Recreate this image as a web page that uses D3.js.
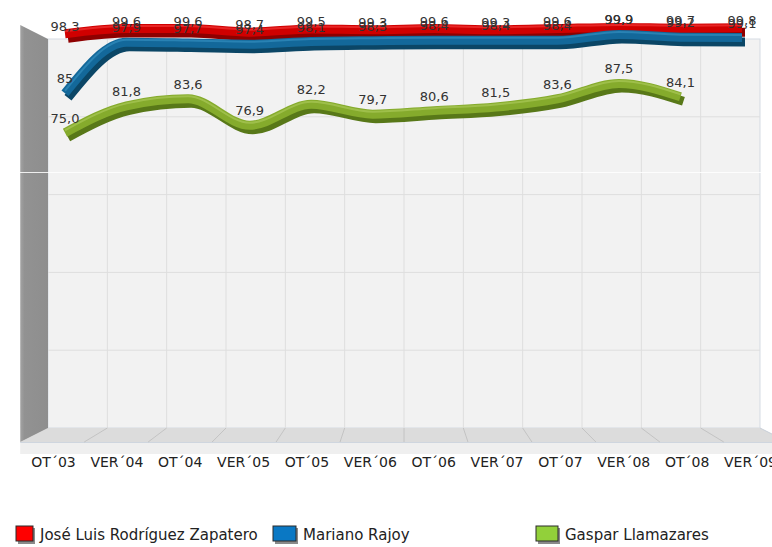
<!DOCTYPE html>
<html><head><meta charset="utf-8">
<script src="https://cdn.jsdelivr.net/npm/d3@7"></script>
<style>
html,body{margin:0;padding:0;background:#fff;}
svg{display:block;font-family:"DejaVu Sans",Verdana,sans-serif;}
</style></head>
<body>
<script>
const categories = ["OT´03","VER´04","OT´04","VER´05","OT´05","VER´06","OT´06","VER´07","OT´07","VER´08","OT´08","VER´09"];
const zapatero = ["98.3","99.6","99.6","98.7","99.5","99.3","99.6","99.3","99.6","99.9","99.7","99.8"];
const rajoy    = ["85","97.9","97.7","97.4","98.1","98.3","98.4","98.4","98.4","99.9","99.2","99.1"];
const llamazares = ["75.0","81.8","83.6","76.9","82.2","79.7","80.6","81.5","83.6","87.5","84.1"];
const seriesNames = ["José Luis Rodríguez Zapatero","Mariano Rajoy","Gaspar Llamazares"];
const yTicks = [0,20,40,60,80,100];

const W = 772, H = 547;
const svg = d3.select("body").append("svg").attr("width",W).attr("height",H);

// frame geometry (back wall) with perspective to the front plane
const back = {x0:48, x1:760, y0:39, y1:428};
const vp = {x:404, y:233.5}, sx = 1.078, sy = 1.072;
const fx = x => vp.x + (x - vp.x)*sx;
const fy = y => vp.y + (y - vp.y)*sy;

const gridX = d3.scaleBand().domain(categories).range([back.x0, back.x1]);
const gridY = d3.scaleLinear().domain([0,100]).range([back.y1, back.y0]);

// back wall
svg.append("rect").attr("x",back.x0).attr("y",back.y0).attr("width",back.x1-back.x0).attr("height",back.y1-back.y0)
  .attr("fill","#f2f2f2").attr("stroke","#d5dbe3").attr("stroke-width",1);
svg.append("g").selectAll("line").data(yTicks.slice(1,-1)).join("line")
  .attr("x1",back.x0).attr("x2",back.x1).attr("y1",d=>gridY(d)).attr("y2",d=>gridY(d))
  .attr("stroke","#dedede").attr("stroke-width",1);
svg.append("g").selectAll("line").data(categories.slice(1)).join("line")
  .attr("x1",d=>gridX(d)).attr("x2",d=>gridX(d)).attr("y1",back.y0).attr("y2",back.y1)
  .attr("stroke","#dedede").attr("stroke-width",1);

// floor
svg.append("polygon")
  .attr("points",[[back.x0,back.y1],[back.x1,back.y1],[fx(back.x1),fy(back.y1)],[fx(back.x0),fy(back.y1)]].join(" "))
  .attr("fill","#dcdcdc");
svg.append("rect").attr("x",fx(back.x0)).attr("y",fy(back.y1)).attr("width",fx(back.x1)-fx(back.x0)).attr("height",12)
  .attr("fill","#efefef");
svg.append("line").attr("x1",fx(back.x0)).attr("x2",fx(back.x1)).attr("y1",fy(back.y1)+0.5).attr("y2",fy(back.y1)+0.5)
  .attr("stroke","#cfd6df");
svg.append("g").selectAll("line").data(categories.slice(1)).join("line")
  .attr("x1",d=>gridX(d)).attr("y1",back.y1).attr("x2",d=>fx(gridX(d))).attr("y2",fy(back.y1))
  .attr("stroke","#bdbdbd").attr("stroke-width",0.8);
svg.append("line").attr("x1",back.x1).attr("y1",back.y1).attr("x2",fx(back.x1)).attr("y2",fy(back.y1))
  .attr("stroke","#c8cfd8");

// left wall
const lw = svg.append("defs").append("linearGradient").attr("id","lw").attr("x1","0").attr("x2","1");
lw.append("stop").attr("offset","0").attr("stop-color","#a3a3a3");
lw.append("stop").attr("offset","0.15").attr("stop-color","#929292");
lw.append("stop").attr("offset","1").attr("stop-color","#8e8e8e");
svg.append("polygon")
  .attr("points",[[fx(back.x0),fy(back.y0)],[back.x0,back.y0],[back.x0,back.y1],[fx(back.x0),fy(back.y1)]].join(" "))
  .attr("fill","url(#lw)");
svg.append("line").attr("x1",10).attr("x2",W).attr("y1",172.5).attr("y2",172.5)
  .attr("stroke","#ffffff").attr("stroke-opacity",0.85);

// series
const x = d3.scalePoint().domain(categories).range([65, 742]);
const y = d3.scaleLinear().domain([0,100]).range([430, 35]);
const series = [
  {name:seriesNames[0], vals:zapatero, dy:-7, dark:"#8e0000", main:"#d00000", light:"#ff4a4a", sw:"#ff0000"},
  {name:seriesNames[1], vals:rajoy, dy:0, dark:"#0b4666", main:"#13689a", light:"#3f9ccc", sw:"#0a78c4"},
  {name:seriesNames[2], vals:llamazares, dy:0, dark:"#587818", main:"#85ab2c", light:"#b8d468", sw:"#92d03a"}
];
const line = d3.line().x((d,i)=>x(categories[i])).y(d=>y(+d)).curve(d3.curveMonotoneX);

const gL = svg.append("g");
series.forEach(s=>{
  const g = gL.append("g").attr("transform",`translate(0,${s.dy})`);
  g.append("path").attr("d",line(s.vals)).attr("transform","translate(3,3.5)")
    .attr("fill","none").attr("stroke",s.dark).attr("stroke-width",9);
  g.append("path").attr("d",line(s.vals)).attr("transform","translate(0,-1)")
    .attr("fill","none").attr("stroke",s.main).attr("stroke-width",9);
  g.append("path").attr("d",line(s.vals)).attr("transform","translate(0,-3.5)")
    .attr("fill","none").attr("stroke",s.light).attr("stroke-width",2).attr("stroke-opacity",0.5);
});

// data labels
series.forEach(s=>{
  svg.append("g").selectAll("text").data(s.vals).join("text")
    .attr("x",(d,i)=>x(categories[i])).attr("y",d=>y(+d)-11)
    .attr("text-anchor","middle").attr("font-size",13).attr("fill","#333")
    .text(d=>d.replace(".",","));
});

// x axis labels
const xl = d3.scalePoint().domain(categories).range([53, 750]);
const ax = svg.append("g").attr("transform","translate(0,454)")
  .call(d3.axisBottom(xl).tickSize(0).tickPadding(0));
ax.select(".domain").remove();
ax.selectAll("text").attr("font-size",14).attr("fill","#222").attr("font-family","DejaVu Sans, Verdana, sans-serif").attr("dy","0.9em");

// legend
const legend = [
  {s:series[0], x:16, w:17},
  {s:series[1], x:273, w:23},
  {s:series[2], x:536, w:22}
];
const lg = svg.append("g");
legend.forEach(l=>{
  lg.append("rect").attr("x",l.x+2).attr("y",528).attr("width",l.w).attr("height",16).attr("fill","#8a8a8a");
  lg.append("rect").attr("x",l.x).attr("y",526).attr("width",l.w).attr("height",15).attr("fill",l.s.sw)
    .attr("stroke","#2a2a2a").attr("stroke-width",1);
  lg.append("text").attr("x",l.x+l.w+7).attr("y",540).attr("font-size",15).attr("fill","#222").text(l.s.name);
});
</script>
</body></html>
